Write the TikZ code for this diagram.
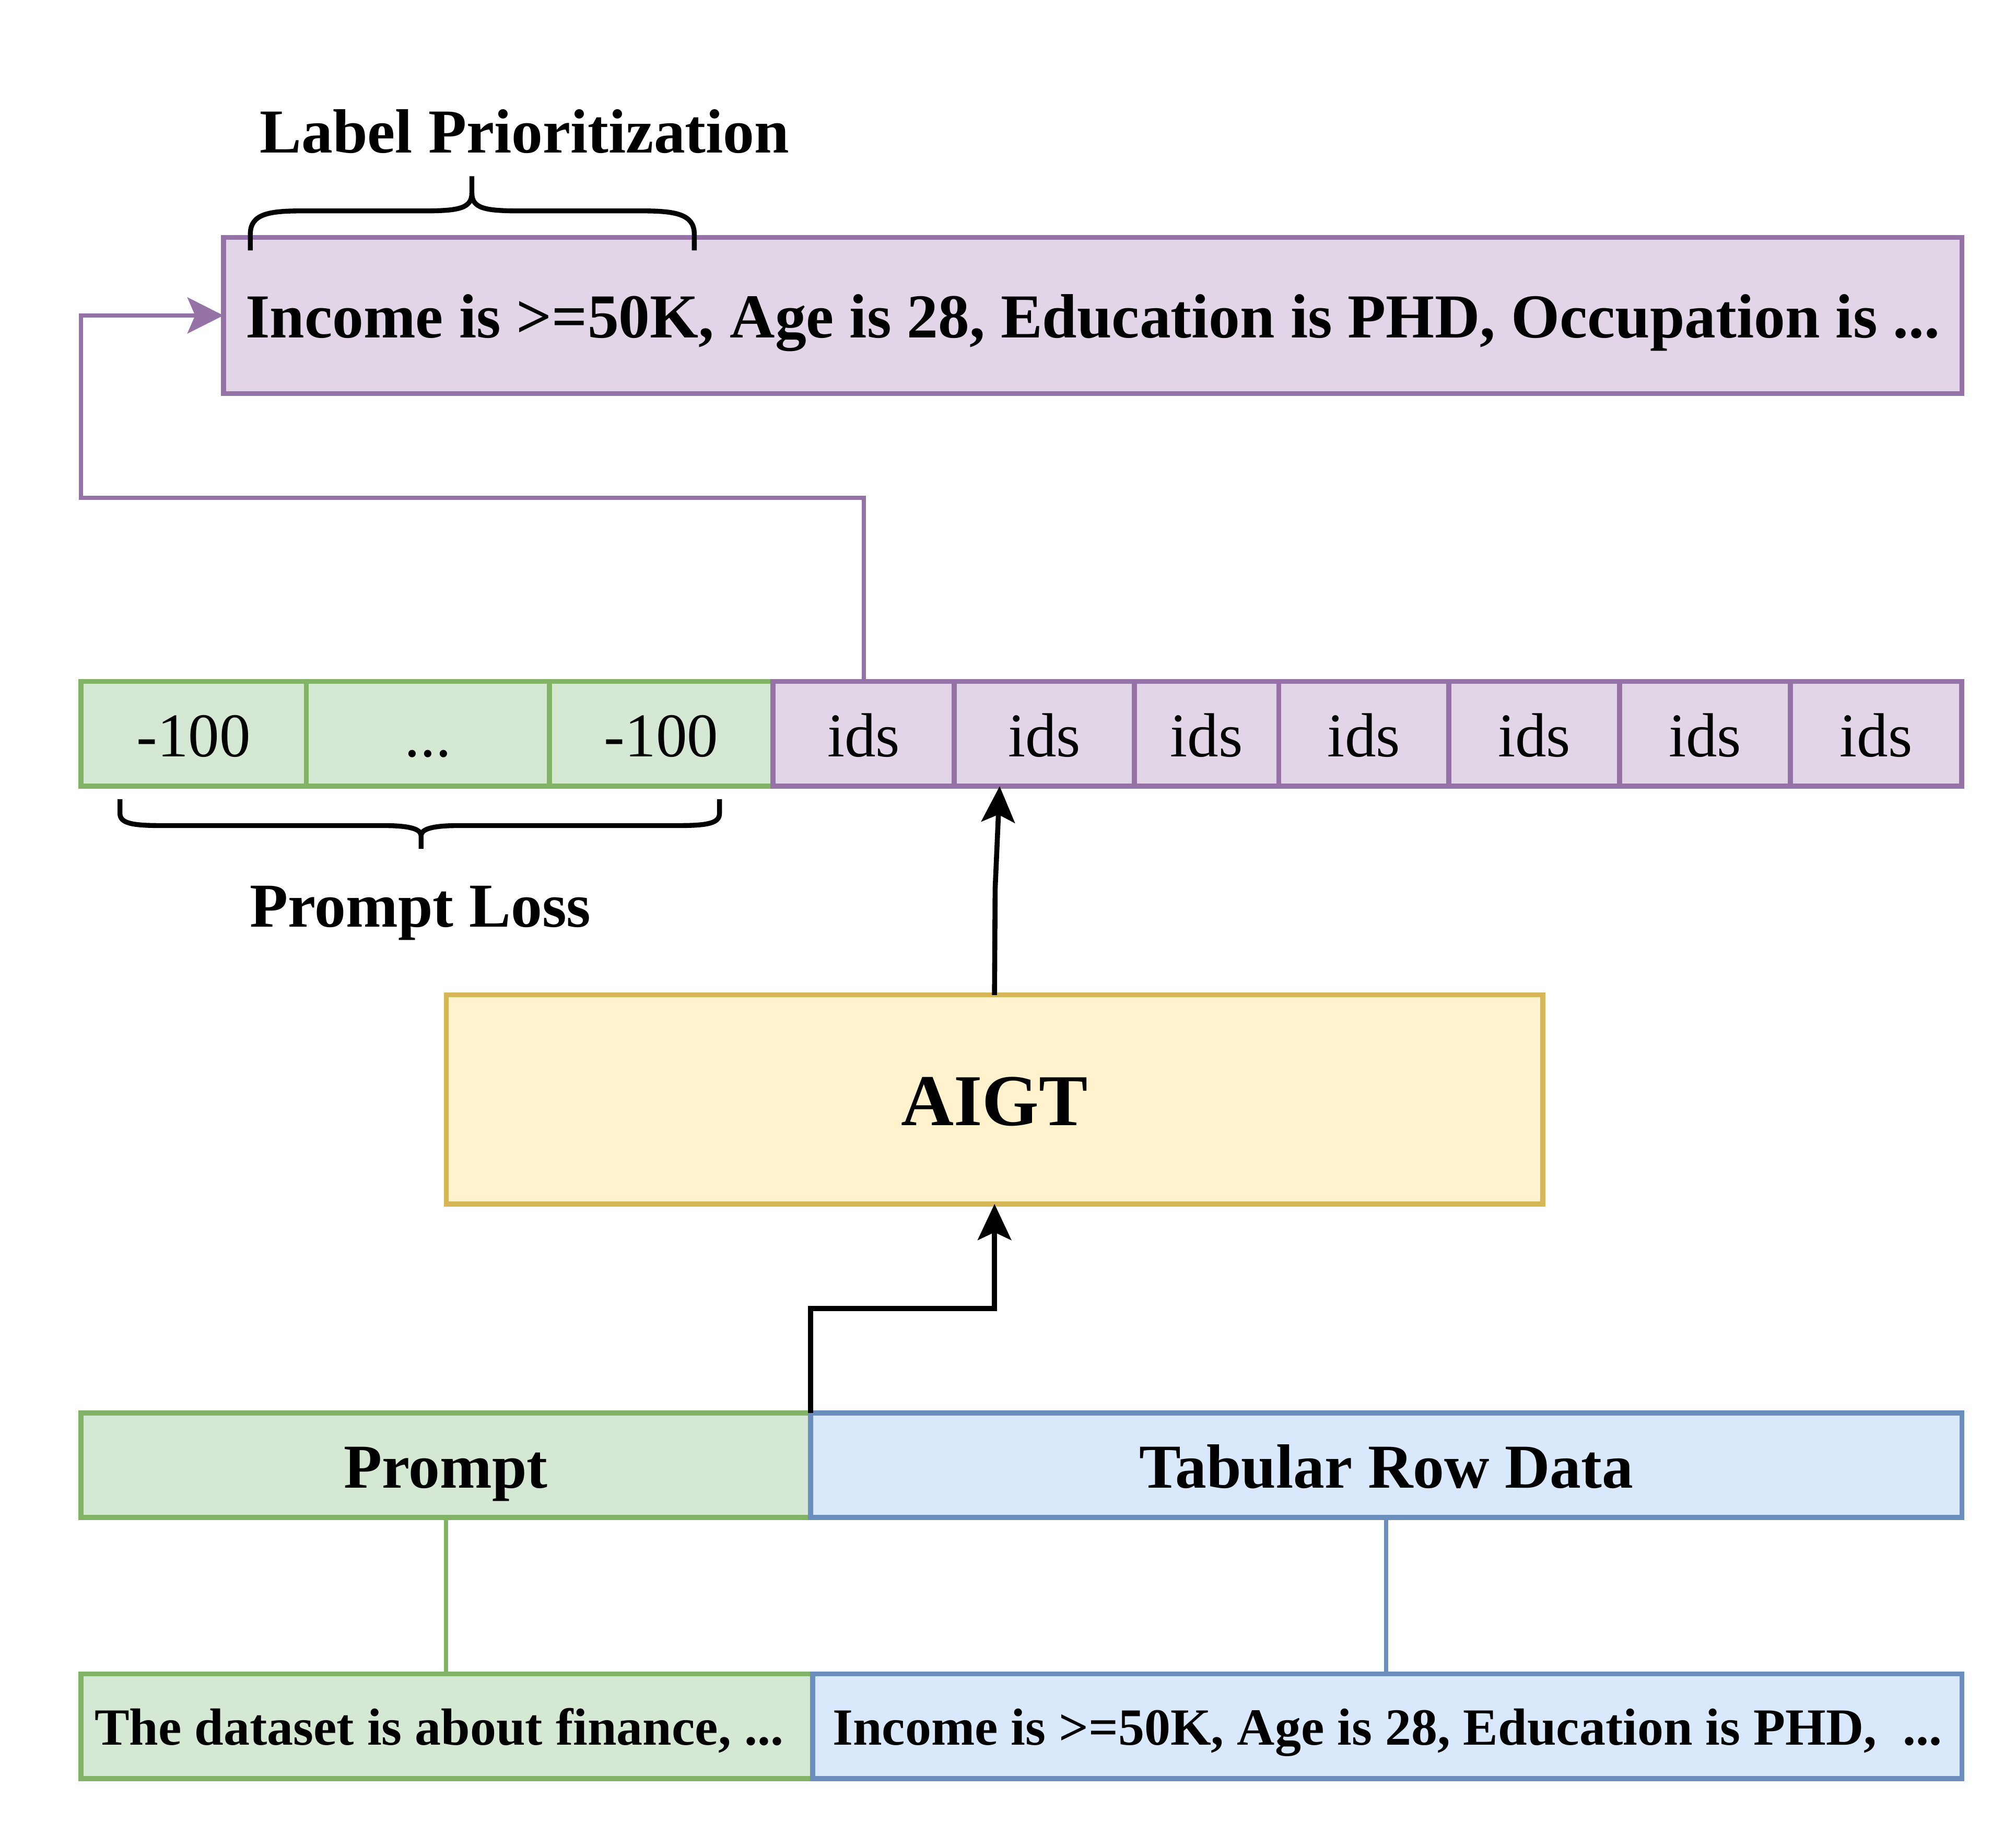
\documentclass[tikz,border=0pt]{standalone}
\usepackage{fontspec}
\setmainfont{Liberation Serif}
\usetikzlibrary{arrows.meta,calc}
\definecolor{pfill}{HTML}{E1D5E7}\definecolor{pdraw}{HTML}{9673A6}
\definecolor{gfill}{HTML}{D5E8D4}\definecolor{gdraw}{HTML}{82B366}
\definecolor{yfill}{HTML}{FFF2CC}\definecolor{ydraw}{HTML}{D6B656}
\definecolor{bfill}{HTML}{DAE8FC}\definecolor{bdraw}{HTML}{6C8EBF}
\tikzset{
  box/.style={rectangle, inner sep=0pt, outer sep=0pt, line width=1.9pt, align=center,
    text height=23.5pt, text depth=6pt},
  pbox/.style={box, fill=pfill, draw=pdraw},
  gbox/.style={box, fill=gfill, draw=gdraw},
  ybox/.style={box, fill=yfill, draw=ydraw},
  bbox/.style={box, fill=bfill, draw=bdraw},
  cellrow/.style={minimum height=40.7pt, font=\fontsize{24.2}{28}\selectfont},
  bigtxt/.style={font=\fontsize{24.3}{28}\selectfont\bfseries},
  smalltxt/.style={font=\fontsize{20.3}{24}\selectfont\bfseries, text height=19.5pt, text depth=5pt},
  lbl/.style={inner sep=0pt, text height=23.5pt, text depth=6pt, font=\fontsize{24.3}{28}\selectfont\bfseries},
  arr/.style={line width=1.95pt, -{Stealth[length=14pt,width=13pt,inset=3pt]}},
  fbline/.style={line width=1.6pt, draw=pdraw, -{Stealth[length=14pt,width=14pt,inset=3pt,fill=pdraw]}},
  bracepath/.style={line width=1.9pt, line cap=butt},
}
\begin{document}
\begin{tikzpicture}[x=0.5pt,y=-0.5pt]
\useasboundingbox (0,0) rectangle (1568,1426);

% top box
\node[pbox, bigtxt, minimum width=676.1pt, minimum height=60.7pt] (top) at (849.9,245.3)
  {Income is >=50K, Age is 28, Education is PHD, Occupation is ...};
\node[lbl] (lp) at (408,101.5) {Label Prioritization};
\draw[bracepath] (194.7,194.7) -- (194.7,182) .. controls (194.7,166) and (210,164) .. (235,164)
  -- (330,164) .. controls (357,164) and (367,162) .. (367,150) -- (367,137);
\draw[bracepath] (540,194.7) -- (540,182) .. controls (540,166) and (524,164) .. (499,164)
  -- (404,164) .. controls (377,164) and (367,162) .. (367,150);

% token row
\node[gbox, cellrow, minimum width=87.65pt] (g1) at (150.65,570.7) {-100};
\node[gbox, cellrow, minimum width=94.55pt] (g2) at (332.85,570.7) {...};
\node[gbox, cellrow, minimum width=86.9pt] (g3) at (514.3,570.7) {-100};
\node[pbox, cellrow, minimum width=70.5pt] (p1) at (671.7,570.7) {ids};
\node[pbox, cellrow, minimum width=70.05pt] (p2) at (812.25,570.7) {ids};
\node[pbox, cellrow, minimum width=56.2pt] (p3) at (938.5,570.7) {ids};
\node[pbox, cellrow, minimum width=66.1pt] (p4) at (1060.8,570.7) {ids};
\node[pbox, cellrow, minimum width=66.4pt] (p5) at (1193.3,570.7) {ids};
\node[pbox, cellrow, minimum width=66.4pt] (p6) at (1326.1,570.7) {ids};
\node[pbox, cellrow, minimum width=66.65pt] (p7) at (1459.15,570.7) {ids};

\node[lbl] (pl) at (327,703.5) {Prompt Loss};
\draw[bracepath] (93.3,621.5) -- (93.3,632.5) .. controls (93.3,640) and (102,642) .. (125,642)
  -- (298,642) .. controls (320,642) and (327.5,645) .. (327.5,650) -- (327.5,660);
\draw[bracepath] (559.6,621.5) -- (559.6,632.5) .. controls (559.6,640) and (551,642) .. (528,642)
  -- (357,642) .. controls (335,642) and (327.5,645) .. (327.5,650);

% AIGT
\node[ybox, font=\fontsize{28.4}{32}\selectfont\bfseries, text height=27pt, text depth=7pt,
  minimum width=426.5pt, minimum height=81.25pt] (aigt) at (773.5,855) {AIGT};

% prompt / tabular
\node[gbox, bigtxt, minimum width=283.75pt, minimum height=40.6pt] (prompt) at (346.75,1139.4) {Prompt};
\node[bbox, bigtxt, minimum width=447.75pt, minimum height=40.6pt] (tab) at (1078.25,1139.4) {Tabular Row Data};

% bottom row
\node[gbox, smalltxt, minimum width=284.5pt, minimum height=40.7pt] (ds) at (347.5,1342.5) {The dataset is about finance, ...\hspace*{6pt}};
\node[bbox, smalltxt, minimum width=447pt, minimum height=40.7pt] (inc) at (1079,1342.5) {Income is >=50K, Age is 28, Education is PHD,\ \ ...};

% connectors
\coordinate (fb) at (63,387);
\draw[fbline] (p1.north) |- (fb) |- (top.west);

\coordinate (bendA) at (774,691);
\coordinate (tipA) at ($(p2.south west)+(35.3,0)$);
\draw[arr] (aigt.north) -- (bendA) -- (tipA);

\coordinate (elb) at (630.5,1017.6);
\draw[arr, line join=miter] (prompt.north east) -- (elb) -| (aigt.south);

\draw[line width=1.6pt, draw=gdraw] (prompt.south) -- (prompt.south |- ds.north);
\draw[line width=1.6pt, draw=bdraw] (tab.south) -- (tab.south |- inc.north);
\end{tikzpicture}
\end{document}
